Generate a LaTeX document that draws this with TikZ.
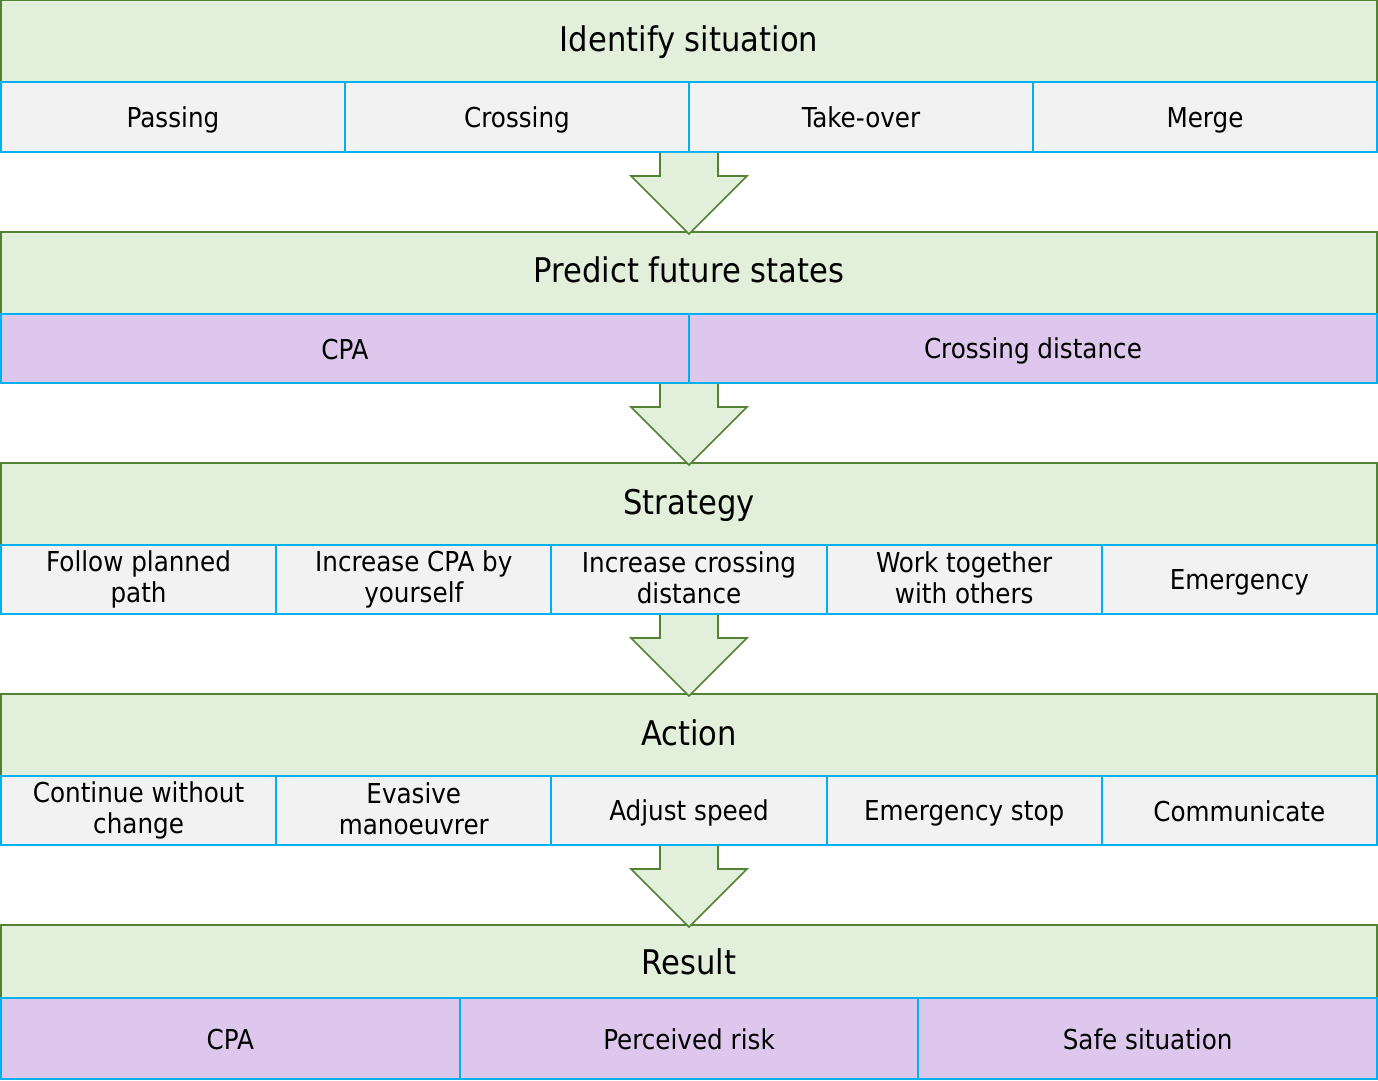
\documentclass[tikz,border=0pt]{standalone}
\usepackage{fontspec}
\setmainfont{DejaVu Sans Condensed}
\usetikzlibrary{calc}
\definecolor{stagegreen}{HTML}{548235}
\definecolor{stagefill}{HTML}{E2EFDA}
\definecolor{itemblue}{HTML}{00B0F0}
\definecolor{itemgray}{HTML}{F2F2F2}
\definecolor{itempurple}{HTML}{DEC7EC}

\begin{document}
\begin{tikzpicture}[x=0.5pt,y=-0.5pt,
  stage/.style={draw=stagegreen, fill=stagefill, line width=1pt, minimum width=688pt, minimum height=41pt, inner sep=0pt, outer sep=0pt, font=\fontsize{17}{20}\selectfont, execute at begin node=\rule[-4pt]{0pt}{18pt}},
  item/.style={draw=itemblue, fill=itemgray, line width=1pt, minimum height=35pt, inner sep=0pt, outer sep=0pt, align=center, font=\fontsize{13.7}{15.5}\selectfont, execute at begin node=\rule{0pt}{13pt}, execute at end node=\rule[-2pt]{0pt}{2pt}},
  measure/.style={item, fill=itempurple},
  flowarr/.style={draw=stagegreen, fill=stagefill, line width=0.8pt}]
\useasboundingbox (0,0) rectangle (1378,1081);

% Stages
\node[stage] (identify) at (689,41.5) {Identify situation};
\node[stage] (predict) at (689,273) {Predict future states};
\node[stage] (strategy) at (689,504) {Strategy};
\node[stage] (action) at (689,735) {Action};
\node[stage, minimum height=39pt] (result) at (689,964) {Result};

% Situations
\node[item, minimum width=172pt] (passing) at (173,117) {Passing};
\node[item, minimum width=172pt] (crossing) at (517,117) {Crossing};
\node[item, minimum width=172pt] (takeover) at (861,117) {Take-over};
\node[item, minimum width=172pt] (merge) at (1205,117) {Merge};

% Predictions
\node[measure, minimum width=344pt, minimum height=34.5pt] (cpa) at (345,348.5) {CPA};
\node[measure, minimum width=344pt, minimum height=34.5pt] (crossdist) at (1033,348.5) {Crossing distance};

% Strategies
\node[item, minimum width=137.6pt, minimum height=34.5pt] (follow) at (138.6,579.5) {Follow planned\\path};
\node[item, minimum width=137.6pt, minimum height=34.5pt] (inccpa) at (413.8,579.5) {Increase CPA by\\yourself};
\node[item, minimum width=137.6pt, minimum height=34.5pt] (incdist) at (689,579.5) {Increase crossing\\distance};
\node[item, minimum width=137.6pt, minimum height=34.5pt] (together) at (964.2,579.5) {Work together\\with others};
\node[item, minimum width=137.6pt, minimum height=34.5pt] (emergency) at (1239.4,579.5) {Emergency};

% Actions
\node[item, minimum width=137.6pt, minimum height=34.5pt] (continue) at (138.6,810.5) {Continue without\\change};
\node[item, minimum width=137.6pt, minimum height=34.5pt] (evasive) at (413.8,810.5) {Evasive\\manoeuvrer};
\node[item, minimum width=137.6pt, minimum height=34.5pt] (adjust) at (689,810.5) {Adjust speed};
\node[item, minimum width=137.6pt, minimum height=34.5pt] (stop) at (964.2,810.5) {Emergency stop};
\node[item, minimum width=137.6pt, minimum height=34.5pt] (communicate) at (1239.4,810.5) {Communicate};

% Results
\node[measure, minimum width=229.3pt, minimum height=40.5pt] (rescpa) at (230.3,1038.5) {CPA};
\node[measure, minimum width=229.3pt, minimum height=40.5pt] (risk) at (689,1038.5) {Perceived risk};
\node[measure, minimum width=229.3pt, minimum height=40.5pt] (safe) at (1147.7,1038.5) {Safe situation};

% Arrows between stages
\foreach \a/\b in {crossing.south east/predict.north, cpa.south east/strategy.north, incdist.south/action.north, adjust.south/result.north}
  \draw[flowarr] ([xshift=-14.5pt,yshift=-0.5pt]\a) -- ([xshift=-14.5pt,yshift=-12pt]\a) -- ([xshift=-29pt,yshift=-12pt]\a) -- ([yshift=-1pt]\b) -- ([xshift=29pt,yshift=-12pt]\a) -- ([xshift=14.5pt,yshift=-12pt]\a) -- ([xshift=14.5pt,yshift=-0.5pt]\a);
\end{tikzpicture}
\end{document}
